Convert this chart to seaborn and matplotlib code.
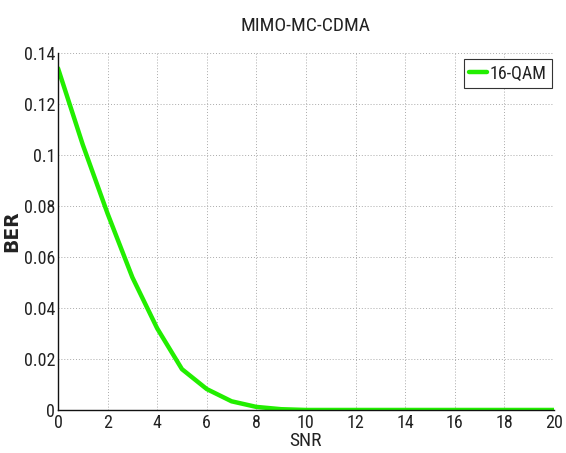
import matplotlib
matplotlib.use("Agg")
import matplotlib.pyplot as plt
import seaborn as sns
import pandas as pd
from matplotlib import font_manager

snr = list(range(0, 21))
ber = [0.134, 0.104, 0.077, 0.052, 0.032, 0.016, 0.0082, 0.0034, 0.0012, 0.0003,
       0.0, 0.0, 0.0, 0.0, 0.0, 0.0, 0.0, 0.0, 0.0, 0.0, 0.0]
series = "16-QAM"
xticks = list(range(0, 21, 2))
yticks = [0, 0.02, 0.04, 0.06, 0.08, 0.1, 0.12, 0.14]
yticklabels = ["0", "0.02", "0.04", "0.06", "0.08", "0.1", "0.12", "0.14"]

names = {f.name for f in font_manager.fontManager.ttflist}
fam = "Liberation Sans"
for cand in ["Liberation Sans Narrow", "Roboto Condensed", "Open Sans Condensed",
             "DejaVu Sans Condensed", "Noto Sans Condensed"]:
    if cand in names:
        fam = cand
        break

sns.set_style("white")
plt.rcParams['font.family'] = [fam, 'DejaVu Sans']

df = pd.DataFrame({"SNR": snr, "BER": ber, "series": series})

fig = plt.figure(figsize=(5.66, 4.53), dpi=100)
ax = fig.add_axes([0.1025, 0.095, 0.876, 0.788])
sns.lineplot(data=df, x="SNR", y="BER", hue="series", palette=["#22ee00"],
             linewidth=3.2, ax=ax)

ax.set_xlim(0, 20)
ax.set_ylim(0, 0.14)
ax.set_xticks(xticks)
ax.set_yticks(yticks)
ax.set_yticklabels(yticklabels)
ax.tick_params(axis="both", direction="in", length=5, width=0.8, labelsize=13,
               colors="#222222", pad=2)
ax.tick_params(axis="x", pad=3)
for lab in ax.get_xticklabels() + ax.get_yticklabels():
    lab.set_color("#222222")
ax.grid(True, linestyle=(0, (1, 2)), color="#aaaaaa", linewidth=0.7)
for s in ["top", "right"]:
    ax.spines[s].set_visible(False)
for s in ["left", "bottom"]:
    ax.spines[s].set_color("#111111")
    ax.spines[s].set_linewidth(1.0)

ax.set_title("MIMO-MC-CDMA", fontsize=14, color="#222222", pad=16)
ax.set_xlabel("SNR", fontsize=14, color="#222222", labelpad=0)
ax.set_ylabel("BER", fontsize=13.5, fontweight="bold", family="DejaVu Sans",
              color="#222222", labelpad=2)

leg = ax.legend(loc="upper right", fontsize=13, frameon=True, fancybox=False,
                handlelength=1.0, handletextpad=0.15, borderpad=0.3,
                borderaxespad=0.0, bbox_to_anchor=(0.997, 0.983))
leg.get_frame().set_edgecolor("#333333")
leg.get_frame().set_linewidth(0.8)
leg.get_frame().set_alpha(1)
for t in leg.get_texts():
    t.set_color("#222222")

fig.savefig("out.png", dpi=100)
